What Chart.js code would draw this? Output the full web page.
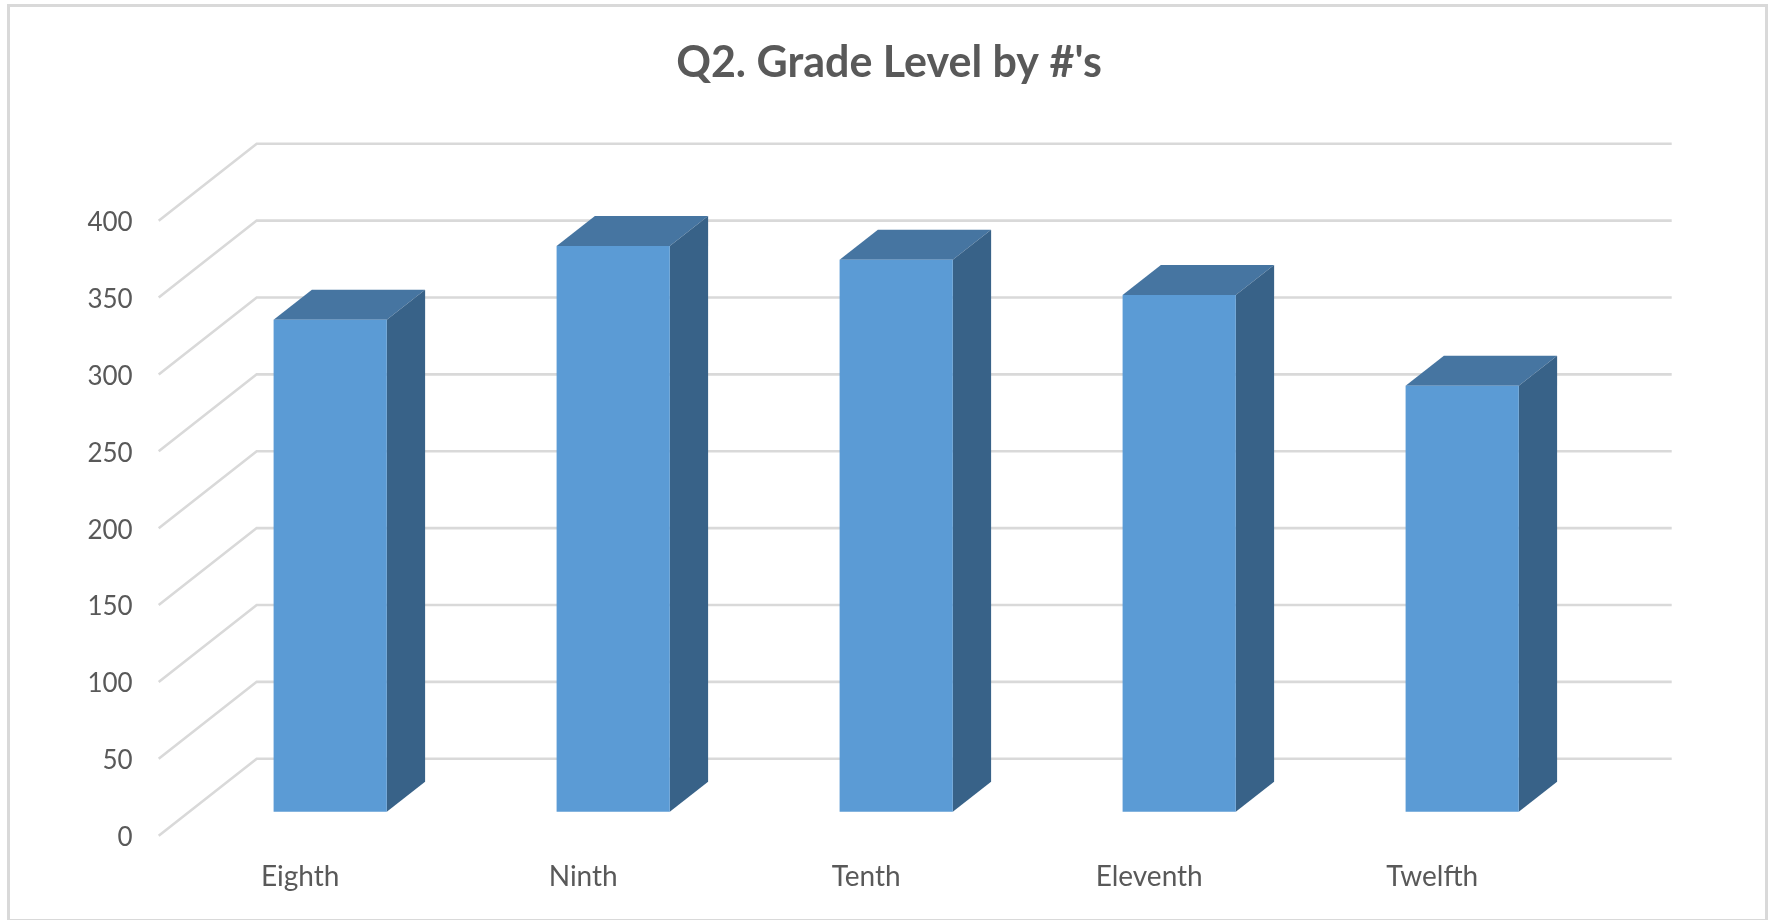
<!DOCTYPE html>
<html>
<head>
<meta charset="utf-8">
<title>Q2. Grade Level by #'s</title>
<style>
html,body{margin:0;padding:0;background:#fff;overflow:hidden}
canvas{display:block;filter:blur(0.5px)}
</style>
<script src="https://cdn.jsdelivr.net/npm/chart.js@4/dist/chart.umd.min.js"></script>
</head>
<body>
<canvas id="c" width="1771" height="920"></canvas>
<script>
const categories = ["Eighth", "Ninth", "Tenth", "Eleventh", "Twelfth"];
const values = [320, 368, 359, 336, 277];
const chartTitle = "Q2. Grade Level by #'s";
const yMin = 0, yMax = 400, yStep = 50;

const FRONT = "#5B9BD5", TOP = "#4675A1", SIDE = "#386288";
const GRID = "#D9D9D9", TEXT = "#595959", FRAME = "#D9D9D9";
const FLOOR = {dx: 98, dy: 77};       // perspective offset of the back wall
const BAR_SHIFT = {dx: 30, dy: 24};    // bars stand mid-way on the floor
const BAR_DEPTH = {dx: 38.3, dy: 30};

const wall3d = {
  id: "wall3d",
  beforeDraw(chart) {
    const {ctx, width, height} = chart;
    ctx.save();
    ctx.strokeStyle = FRAME;
    ctx.lineWidth = 3;
    ctx.strokeRect(8.5, 5.5, width - 13, height - 5);
    ctx.restore();
  },
  beforeDatasetsDraw(chart) {
    const {ctx, chartArea, scales} = chart;
    const y = scales.y;
    ctx.save();
    ctx.strokeStyle = GRID;
    ctx.lineWidth = 2.6;
    ctx.lineJoin = "miter";
    y.ticks.forEach(t => {
      const py = y.getPixelForValue(t.value);
      ctx.beginPath();
      ctx.moveTo(chartArea.left, py);
      ctx.lineTo(chartArea.left + FLOOR.dx, py - FLOOR.dy);
      ctx.lineTo(chartArea.right + FLOOR.dx, py - FLOOR.dy);
      ctx.stroke();
    });
    ctx.restore();
  },
  beforeDatasetDraw(chart, args) {
    const {ctx} = chart;
    ctx.save();
    ctx.translate(BAR_SHIFT.dx, -BAR_SHIFT.dy);
    args.meta.data.forEach(bar => {
      const p = bar.getProps(["x", "y", "base", "width"], true);
      const l = p.x - p.width / 2, r = p.x + p.width / 2;
      const d = BAR_DEPTH;
      ctx.fillStyle = TOP;
      ctx.beginPath();
      ctx.moveTo(l, p.y);
      ctx.lineTo(l + d.dx, p.y - d.dy);
      ctx.lineTo(r + d.dx, p.y - d.dy);
      ctx.lineTo(r, p.y);
      ctx.closePath();
      ctx.fill();
      ctx.fillStyle = SIDE;
      ctx.beginPath();
      ctx.moveTo(r, p.y);
      ctx.lineTo(r + d.dx, p.y - d.dy);
      ctx.lineTo(r + d.dx, p.base - d.dy);
      ctx.lineTo(r, p.base);
      ctx.closePath();
      ctx.fill();
    });
  },
  afterDatasetDraw(chart) {
    chart.ctx.restore();
  }
};

new Chart(document.getElementById("c"), {
  type: "bar",
  plugins: [wall3d],
  data: {
    labels: categories,
    datasets: [{
      label: "Grade Level",
      data: values,
      backgroundColor: FRONT,
      borderWidth: 0,
      barPercentage: 0.4,
      categoryPercentage: 1,
      clip: false
    }]
  },
  options: {
    responsive: false,
    animation: false,
    layout: {padding: {left: 7, right: 0, top: 0, bottom: 0}},
    plugins: {
      legend: {display: false},
      tooltip: {enabled: false},
      title: {
        display: true,
        text: chartTitle,
        color: TEXT,
        font: {family: "Lato", size: 43, weight: "bold", lineHeight: 1.2},
        padding: {top: 37.2, bottom: 131.9}
      }
    },
    scales: {
      x: {
        grid: {display: false},
        border: {display: false},
        ticks: {color: TEXT, font: {family: "Lato", size: 28}, padding: 16.5, maxRotation: 0},
        afterFit(s) { s.height = 84.3; }
      },
      y: {
        min: yMin, max: yMax,
        grid: {display: false},
        border: {display: false},
        ticks: {stepSize: yStep, color: TEXT, font: {family: "Lato", size: 26}, padding: 18, labelOffset: 2},
        afterFit(s) { s.width = 151.7; }
      },
      gutter: {
        axis: "y",
        position: "right",
        grid: {display: false},
        border: {display: false},
        ticks: {display: false},
        afterFit(s) { s.width = 197.3; }
      }
    }
  }
});
</script>
</body>
</html>
